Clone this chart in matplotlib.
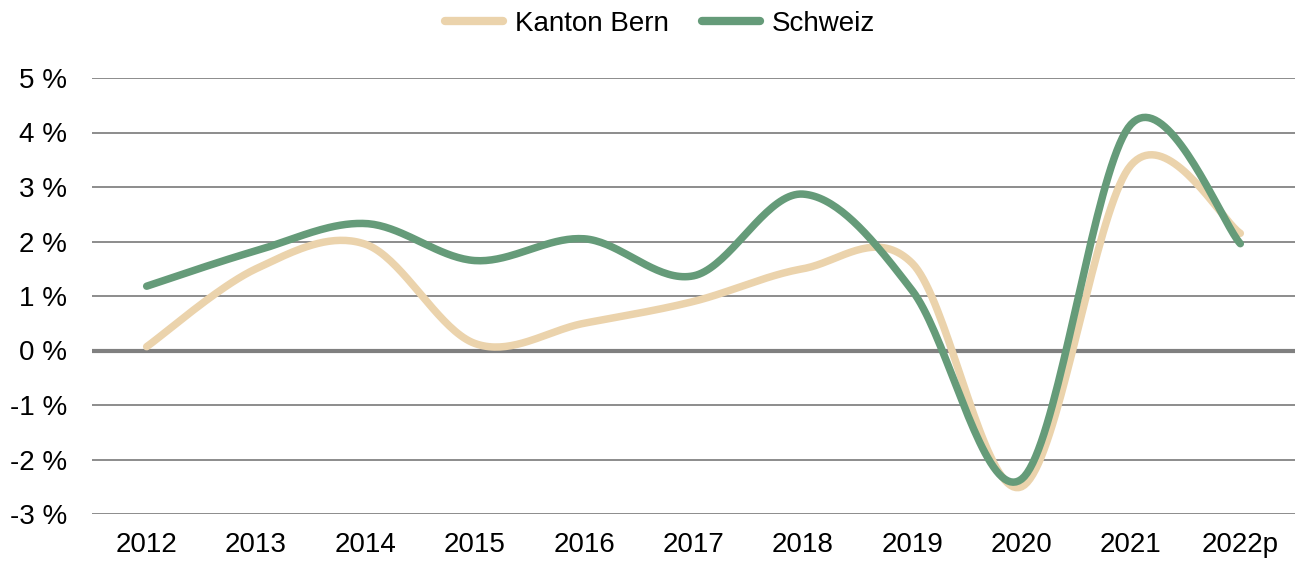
import numpy as np
import matplotlib.pyplot as plt

years = ['2012', '2013', '2014', '2015', '2016', '2017', '2018', '2019', '2020', '2021', '2022p']
bern = [0.07, 1.5, 1.95, 0.13, 0.5, 0.9, 1.5, 1.6, -2.5, 3.4, 2.15]
schweiz = [1.18, 1.83, 2.33, 1.65, 2.05, 1.37, 2.87, 1.1, -2.36, 4.15, 1.96]
yticks = [-3, -2, -1, 0, 1, 2, 3, 4, 5]


def smooth(x, y, n=40):
    # Excel-like smoothed line: cubic Bezier segments with Catmull-Rom control points
    x = np.asarray(x, float)
    y = np.asarray(y, float)
    px = np.concatenate([[x[0]], x, [x[-1]]])
    py = np.concatenate([[y[0]], y, [y[-1]]])
    xs, ys = [], []
    t = np.linspace(0, 1, n)
    for i in range(len(x) - 1):
        p0 = np.array([px[i + 1], py[i + 1]])
        p3 = np.array([px[i + 2], py[i + 2]])
        c1 = p0 + (np.array([px[i + 2], py[i + 2]]) - np.array([px[i], py[i]])) / 6
        c2 = p3 - (np.array([px[i + 3], py[i + 3]]) - np.array([px[i + 1], py[i + 1]])) / 6
        b = ((1 - t) ** 3)[:, None] * p0 + (3 * (1 - t) ** 2 * t)[:, None] * c1 \
            + (3 * (1 - t) * t ** 2)[:, None] * c2 + (t ** 3)[:, None] * p3
        xs.append(b[:, 0])
        ys.append(b[:, 1])
    return np.concatenate(xs), np.concatenate(ys)


plt.rcParams['font.family'] = ['Liberation Sans', 'DejaVu Sans']

fig = plt.figure(figsize=(13.03, 5.61), dpi=100)
ax = fig.add_axes([92 / 1303, 1 - 514 / 561, (1295 - 92) / 1303, (514 - 78) / 561])

x = np.arange(len(years))
ax.set_xlim(-0.5, len(years) - 0.5)
ax.set_ylim(-3, 5)

for v in yticks:
    if v == 0:
        ax.axhline(v, color='#808080', lw=3.0, zorder=1)
    else:
        ax.axhline(v, color='#8c8c8c', lw=1.4, zorder=1)

bx, by = smooth(x, bern)
sx, sy = smooth(x, schweiz)
ax.plot(bx, by, color='#ebd3ac', lw=5.4, solid_capstyle='round', label='Kanton Bern', zorder=2)
ax.plot(sx, sy, color='#659b79', lw=5.4, solid_capstyle='round', label='Schweiz', zorder=3)

ax.set_xticks(x)
ax.set_xticklabels(years)
ax.set_yticks(yticks)
ax.set_yticklabels([f'{v} %' for v in yticks])
ax.tick_params(axis='both', length=0, labelsize=20, colors='black')
ax.tick_params(axis='y', pad=18)
ax.tick_params(axis='x', pad=13)
for s in ax.spines.values():
    s.set_visible(False)

leg = fig.legend(loc='center', bbox_to_anchor=(660 / 1303, 1 - 24 / 561), ncol=2, frameon=False,
                 fontsize=20, handlelength=2.1, columnspacing=1.2, handletextpad=0.42)
for h in leg.get_lines():
    h.set_linewidth(6)

fig.savefig('out.png', dpi=100)
